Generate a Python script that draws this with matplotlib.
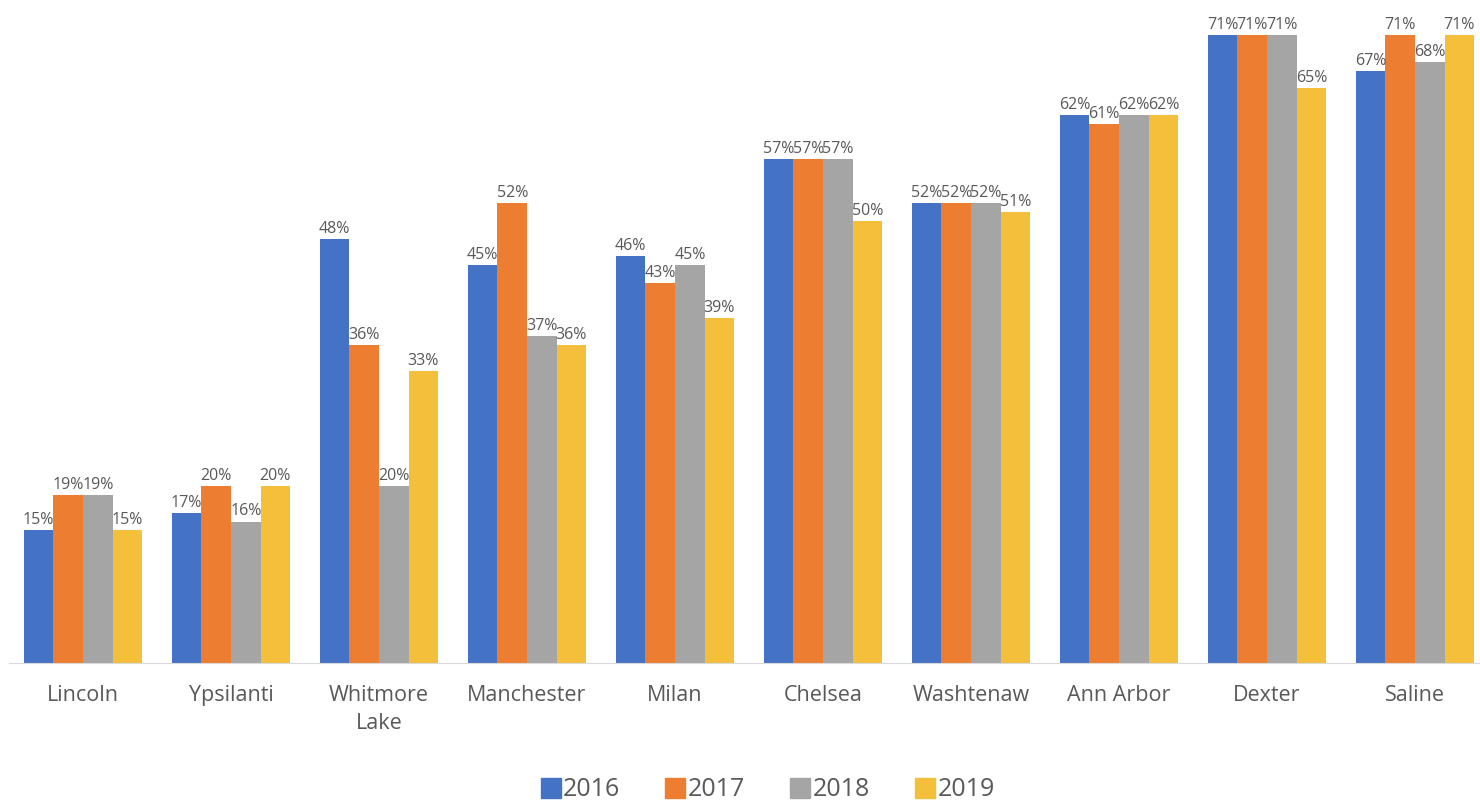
import matplotlib
matplotlib.use("Agg")
import matplotlib.pyplot as plt
import numpy as np

plt.rcParams['font.family'] = ['Open Sans', 'DejaVu Sans']

# data (percent)
cities = ['Lincoln', 'Ypsilanti', 'Whitmore\nLake', 'Manchester', 'Milan',
          'Chelsea', 'Washtenaw', 'Ann Arbor', 'Dexter', 'Saline']
years = ['2016', '2017', '2018', '2019']
v2016 = [15, 17, 48, 45, 46, 57, 52, 62, 71, 67]
v2017 = [19, 20, 36, 52, 43, 57, 52, 61, 71, 71]
v2018 = [19, 16, 20, 37, 45, 57, 52, 62, 71, 68]
v2019 = [15, 20, 33, 36, 39, 50, 51, 62, 65, 71]
colors = ['#4472C4', '#ED7D31', '#A5A5A5', '#F4C03C']

series = [v2016, v2017, v2018, v2019]
txt = '#595959'

fig = plt.figure(figsize=(14.8, 8.02), dpi=100)
ax = fig.add_axes([0, 139/802, 1, 1 - 139/802])

x = np.arange(len(cities))
w = 0.2
for i, vals in enumerate(series):
    pos = x + (i - 1.5) * w
    bars = ax.bar(pos, vals, width=w, color=colors[i], label=years[i])
    for b, v in zip(bars, vals):
        ax.annotate(f'{v}%', (b.get_x() + b.get_width()/2, v),
                    xytext=(0, 1.5), textcoords='offset points',
                    ha='center', va='bottom', fontsize=11.5, color=txt)

ax.set_xlim(-0.561, 9.439)
ax.set_ylim(0, 75)
ax.set_yticks([])
ax.set_xticks(x)
ax.set_xticklabels(cities, fontsize=15.5, color=txt, linespacing=1.4)
ax.tick_params(axis='x', length=0, pad=16)
for s in ['top', 'right', 'left']:
    ax.spines[s].set_visible(False)
ax.spines['bottom'].set_color('#D9D9D9')
ax.spines['bottom'].set_bounds(-0.5, 9.439)

handles = [plt.Line2D([], [], marker='s', linestyle='', markersize=15,
                      color=c) for c in colors]
fig.legend(handles, years, loc='center', bbox_to_anchor=(0.517, 12/802),
           ncol=4, frameon=False, fontsize=18, handletextpad=-0.1,
           handlelength=1.2, columnspacing=1.6, labelcolor=txt)

fig.savefig('out.png', dpi=100)
